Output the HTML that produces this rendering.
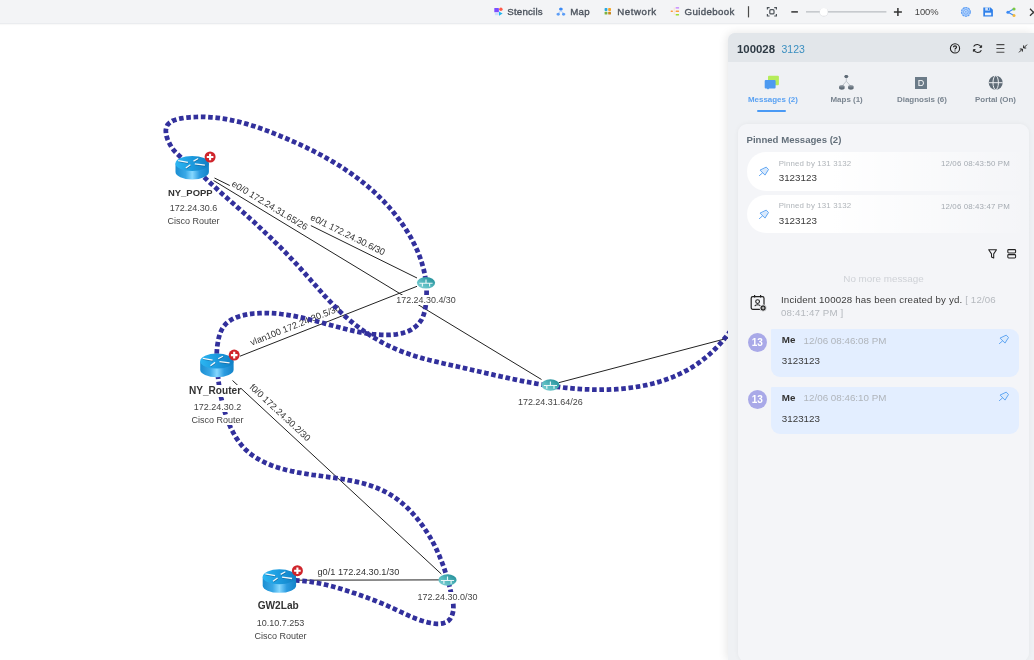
<!DOCTYPE html>
<html><head><meta charset="utf-8">
<style>
*{box-sizing:border-box;margin:0;padding:0}
html,body{width:1034px;height:660px;overflow:hidden;background:#fff;font-family:"Liberation Sans",sans-serif;}
.abs{position:absolute}
#tb{position:absolute;left:0;top:0;width:1034px;height:24px;background:#f3f4f6;border-bottom:1px solid #eaecef;box-shadow:0 1px 1px rgba(0,0,0,.025)}
.tbt{position:absolute;top:5.5px;font-size:9.7px;font-weight:normal;-webkit-text-stroke:.38px #4f5660;color:#4f5660;line-height:12px;white-space:nowrap}
#canvas{position:absolute;left:0;top:0}
.nl{position:absolute;white-space:nowrap;background:#fff;color:#444;font-size:9px;line-height:10px;text-align:center;transform:translateX(-50%)}
.nb{font-weight:bold;font-size:10px;color:#333;line-height:12px}
#panel{position:absolute;left:728px;top:33px;width:306px;height:627px;background:#eff1f4;border-top-left-radius:7px;box-shadow:-1px 0 10px rgba(0,0,0,.11)}
#ph{position:absolute;left:0;top:0;width:306px;height:29px;background:#e2e6ea;border-top-left-radius:7px}
#card{position:absolute;left:10px;top:91px;width:291px;height:538px;background:#f4f5f8;border-radius:9px;box-shadow:0 0 5px rgba(0,0,0,.05)}
.tab{position:absolute;top:62px;font-size:7.95px;font-weight:bold;color:#7a8590;white-space:nowrap;line-height:10px}
.pin{position:absolute;left:9px;width:283px;height:38.5px;border-radius:19px 0 0 19px;background:linear-gradient(90deg,#fff 0%,#fff 30%,rgba(255,255,255,0) 100%)}
.bub{position:absolute;left:32.8px;width:248.2px;background:#e3eeff;border-radius:1px 9px 9px 9px}
.av{position:absolute;left:9.6px;width:19.4px;height:19.4px;border-radius:50%;background:#a9a9e8;color:#fff;font-weight:bold;font-size:10px;line-height:19.4px;text-align:center}
.psm{font-size:7.9px;letter-spacing:.13px;color:#b0b5ba;line-height:10px;white-space:nowrap;margin-top:.7px}
.pmsg{font-size:9.8px;color:#3a3a3a;line-height:12px;white-space:nowrap}
.me{font-size:9.8px;font-weight:bold;color:#333;line-height:12px}
.ts{font-size:9.8px;color:#b0b5bb;line-height:12px;white-space:nowrap}
</style></head><body><div id="root" style="position:absolute;left:0;top:0;width:1034px;height:660px;will-change:transform">
<svg id="canvas" width="1034" height="660" viewBox="0 0 1034 660">
<defs>
<linearGradient id="rb" x1="0" x2="1" y1="0" y2="0"><stop offset="0" stop-color="#1a8ed2"/><stop offset=".3" stop-color="#3aa8e6"/><stop offset=".5" stop-color="#86d8ff"/><stop offset=".72" stop-color="#2b9be0"/><stop offset="1" stop-color="#1383c8"/></linearGradient>
<linearGradient id="rt" x1="0" x2="1" y1="0" y2="0"><stop offset="0" stop-color="#2cb6f2"/><stop offset=".5" stop-color="#1b9ade"/><stop offset="1" stop-color="#127fc4"/></linearGradient>
<linearGradient id="tg" x1="0" y1="1" x2="1" y2="0"><stop offset="0" stop-color="#86d4d7"/><stop offset=".45" stop-color="#56b9bf"/><stop offset=".8" stop-color="#2e98a1"/><stop offset="1" stop-color="#2a8d96"/></linearGradient>
<g id="router">
<path d="M0.3 7.6 V16.2 A16.7 7.4 0 0 0 33.7 16.2 V7.6 Z" fill="url(#rb)"/>
<ellipse cx="17" cy="7.5" rx="16.7" ry="7.5" fill="url(#rt)"/>
<g stroke="#0b4f80" stroke-opacity=".55" stroke-width="1.5" fill="none" transform="translate(.3,.6)">
<path d="M2.9 4.7L12.7 6.5M18.3 5.2L23 2.6M19.6 8L29.7 9.3M10.6 12.1L15.2 8.8"/></g>
<g stroke="#fff" stroke-opacity=".95" stroke-width="1.3" fill="none">
<path d="M2.9 4.7L12.7 6.5M18.3 5.2L23 2.6M19.6 8L29.7 9.3M10.6 12.1L15.2 8.8"/></g>
</g>
<g id="badge"><circle r="5.5" fill="#cf242b"/><path d="M-3.3 0H3.3M0 -3.3V3.3" stroke="#fff" stroke-width="2.1"/></g>
<g id="lan"><ellipse rx="9.1" ry="5.8" fill="url(#tg)"/><path d="M-6.6 0.5H6.6M0 0.5V-3.4M-3.6 0.5V3.7M3.6 0.5V3.7" stroke="#fff" stroke-opacity=".88" stroke-width="1.15" fill="none"/></g>
</defs>
<!-- black link lines -->
<g stroke="#222" stroke-width="1" fill="none">
<line x1="213.5" y1="180.5" x2="541.5" y2="379.5"/>
<line x1="214.5" y1="178" x2="417" y2="278"/>
<line x1="240" y1="356.2" x2="417" y2="286.3"/>
<line x1="232.5" y1="380.5" x2="441.3" y2="574"/>
<line x1="295.9" y1="580.2" x2="439" y2="579.9"/>
<line x1="558.7" y1="382.7" x2="728" y2="338.1"/>
</g>
<g font-family="Liberation Sans, sans-serif" font-size="9.2" fill="#333">
<g transform="translate(231,185.5) rotate(31.2)"><rect x="-1" y="-9" width="90" height="11.5" fill="#fff"/><text>e0/0 172.24.31.65/26</text></g>
<g transform="translate(309.8,219.6) rotate(26.1)"><rect x="-1" y="-9" width="86" height="11.5" fill="#fff"/><text>e0/1 172.24.30.6/30</text></g>
<g transform="translate(251.8,345.8) rotate(-21.6)"><rect x="-1" y="-9" width="100" height="11.5" fill="#fff"/><text>vlan100 172.24.30.5/30</text></g>
<g transform="translate(249,387.9) rotate(42.8)"><rect x="-1" y="-9" width="84" height="11.5" fill="#fff"/><text>f0/0 172.24.30.2/30</text></g>
<g transform="translate(317.5,575)"><rect x="-1" y="-9" width="84" height="11.5" fill="#fff"/><text>g0/1 172.24.30.1/30</text></g>
</g>
<!-- dashed paths -->
<g stroke="#32309c" stroke-width="4.75" fill="none" stroke-dasharray="4.6 2.7">
<path id="d1" d="M186.0 162.7 L184.0 160.4 L181.9 158.3 L179.7 156.2 L177.5 154.2 L175.3 152.0 L173.4 149.7 L171.6 147.3 L170.1 144.7 L168.7 142.0 L167.5 139.2 L166.6 136.3 L166.0 133.4 L165.8 130.4 L166.3 127.4 L167.6 124.7 L169.8 122.6 L172.3 121.0 L175.1 119.9 L178.0 119.0 L181.0 118.4 L184.0 117.9 L187.0 117.6 L190.0 117.3 L193.0 117.1 L196.0 117.0 L199.0 116.9 L202.0 116.9 L205.1 116.9 L208.1 117.1 L211.1 117.3 L214.1 117.5 L217.1 117.8 L220.1 118.2 L223.1 118.6 L226.1 119.1 L229.0 119.7 L232.0 120.3 L234.9 120.9 L237.9 121.6 L240.8 122.3 L243.7 123.1 L246.6 123.9 L249.5 124.8 L252.4 125.7 L255.3 126.6 L258.2 127.6 L261.0 128.6 L263.9 129.6 L266.7 130.6 L269.5 131.7 L272.3 132.8 L275.1 133.9 L277.9 135.0 L280.7 136.2 L283.5 137.3 L286.3 138.5 L289.1 139.7 L291.8 140.9 L294.6 142.1 L297.4 143.4 L300.1 144.6 L302.8 145.9 L305.6 147.2 L308.3 148.5 L311.0 149.9 L313.7 151.2 L316.4 152.6 L319.0 154.0 L321.7 155.4 L324.4 156.9 L327.0 158.4 L329.6 159.9 L332.2 161.4 L334.8 162.9 L337.4 164.5 L340.0 166.1 L342.5 167.7 L345.0 169.4 L347.5 171.1 L350.0 172.8 L352.5 174.5 L354.9 176.3 L357.4 178.1 L359.8 179.9 L362.2 181.8 L364.5 183.7 L366.8 185.6 L369.1 187.5 L371.4 189.5 L373.7 191.5 L375.9 193.6 L378.1 195.7 L380.2 197.8 L382.4 199.9 L384.5 202.1 L386.5 204.3 L388.6 206.5 L390.5 208.8 L392.5 211.1 L394.4 213.5 L396.3 215.8 L398.1 218.2 L399.9 220.6 L401.7 223.1 L403.4 225.6 L405.1 228.1 L406.7 230.6 L408.3 233.2 L409.8 235.8 L411.3 238.4 L412.7 241.1 L414.1 243.8 L415.4 246.5 L416.7 249.3 L417.9 252.0 L419.0 254.8 L420.1 257.7 L421.1 260.5 L422.0 263.4 L422.8 266.3 L423.6 269.2 L424.3 272.1 L424.9 275.1 L425.4 278.1 L425.8 281.1 L426.2 284.1 L426.4 287.1 L426.6 290.1 L426.6 293.1 L426.5 296.1 L426.4 299.2 L426.1 302.2 L425.8 305.2 L425.3 308.1 L424.7 311.1 L423.9 314.0 L422.9 316.9 L421.6 319.6 L419.9 322.1 L418.0 324.4 L415.8 326.5 L413.3 328.3 L410.8 329.9 L408.1 331.2 L405.3 332.3 L402.4 333.2 L399.4 333.8 L396.4 334.3 L393.4 334.6 L390.4 334.8 L387.4 334.9 L384.4 334.9 L381.4 334.8 L378.3 334.7 L375.3 334.4 L372.3 334.1 L369.3 333.7 L366.3 333.3 L363.4 332.8 L360.4 332.3 L357.4 331.7 L354.5 331.1 L351.5 330.4 L348.6 329.8 L345.6 329.0 L342.7 328.3 L339.8 327.5 L336.9 326.8 L334.0 326.0 L331.0 325.2 L328.1 324.4 L325.2 323.6 L322.3 322.8 L319.4 322.0 L316.5 321.2 L313.5 320.5 L310.6 319.7 L307.7 319.0 L304.7 318.3 L301.8 317.6 L298.9 317.0 L295.9 316.4 L292.9 315.8 L290.0 315.3 L287.0 314.8 L284.0 314.3 L281.0 314.0 L278.0 313.6 L275.0 313.4 L272.0 313.2 L269.0 313.0 L265.9 313.0 L262.9 313.0 L259.9 313.1 L256.9 313.3 L253.9 313.5 L250.9 313.9 L247.9 314.3 L244.9 314.9 L242.0 315.5 L239.1 316.4 L236.2 317.4 L233.4 318.6 L230.8 320.0 L228.3 321.7 L226.0 323.7 L224.0 326.0 L222.4 328.5 L221.0 331.2 L219.9 334.0 L219.0 336.9 L218.3 339.8 L217.8 342.8 L217.3 345.8 L217.0 348.8 L216.8 351.8 L216.7 354.8 L216.6 357.8"/>
<path id="d2" d="M198.9 172.1 L201.0 174.2 L203.2 176.3 L205.4 178.4 L207.6 180.5 L209.8 182.5 L212.0 184.6 L214.3 186.6 L216.5 188.6 L218.7 190.7 L221.0 192.7 L223.2 194.7 L225.5 196.7 L227.8 198.7 L230.0 200.7 L232.3 202.7 L234.6 204.7 L236.8 206.7 L239.1 208.7 L241.3 210.7 L243.6 212.7 L245.9 214.7 L248.1 216.7 L250.3 218.8 L252.6 220.8 L254.8 222.8 L257.0 224.9 L259.2 227.0 L261.4 229.0 L263.6 231.1 L265.8 233.2 L268.0 235.2 L270.2 237.3 L272.4 239.4 L274.5 241.6 L276.7 243.7 L278.8 245.8 L281.0 247.9 L283.1 250.1 L285.2 252.2 L287.3 254.4 L289.4 256.6 L291.5 258.8 L293.6 261.0 L295.6 263.2 L297.7 265.4 L299.7 267.6 L301.7 269.9 L303.7 272.1 L305.7 274.4 L307.7 276.7 L309.7 278.9 L311.7 281.2 L313.7 283.5 L315.7 285.7 L317.7 288.0 L319.7 290.3 L321.7 292.5 L323.7 294.8 L325.8 297.0 L327.8 299.2 L329.9 301.4 L332.0 303.6 L334.1 305.8 L336.2 307.9 L338.4 310.0 L340.6 312.1 L342.8 314.2 L345.0 316.2 L347.3 318.2 L349.6 320.2 L351.9 322.1 L354.3 324.0 L356.7 325.8 L359.1 327.6 L361.5 329.4 L364.0 331.2 L366.5 332.9 L369.0 334.6 L371.5 336.2 L374.1 337.8 L376.7 339.3 L379.3 340.8 L381.9 342.3 L384.6 343.7 L387.3 345.1 L390.0 346.4 L392.8 347.7 L395.5 348.9 L398.3 350.1 L401.1 351.2 L403.9 352.3 L406.8 353.3 L409.6 354.3 L412.5 355.3 L415.4 356.2 L418.3 357.0 L421.2 357.9 L424.1 358.7 L427.0 359.5 L429.9 360.2 L432.9 360.9 L435.8 361.6 L438.7 362.3 L441.7 363.0 L444.6 363.7 L447.6 364.4 L450.5 365.0 L453.5 365.7 L456.4 366.3 L459.4 367.0 L462.3 367.7 L465.3 368.3 L468.2 369.0 L471.1 369.7 L474.1 370.4 L477.0 371.0 L480.0 371.7 L482.9 372.4 L485.9 373.1 L488.8 373.7 L491.8 374.4 L494.7 375.1 L497.7 375.7 L500.6 376.4 L503.6 377.0 L506.5 377.7 L509.5 378.3 L512.4 379.0 L515.4 379.6 L518.3 380.2 L521.3 380.8 L524.3 381.4 L527.2 381.9 L530.2 382.5 L533.2 383.0 L536.1 383.6 L539.1 384.1 L542.1 384.6 L545.1 385.0 L548.1 385.5 L551.1 385.9 L554.0 386.4 L557.0 386.8 L560.0 387.1 L563.0 387.5 L566.0 387.8 L569.0 388.1 L572.1 388.4 L575.1 388.7 L578.1 388.9 L581.1 389.1 L584.1 389.3 L587.1 389.4 L590.1 389.5 L593.2 389.6 L596.2 389.7 L599.2 389.7 L602.2 389.7 L605.3 389.6 L608.3 389.6 L611.3 389.4 L614.3 389.3 L617.3 389.1 L620.3 388.9 L623.3 388.6 L626.3 388.3 L629.4 387.9 L632.3 387.5 L635.3 387.1 L638.3 386.6 L641.3 386.1 L644.3 385.5 L647.2 384.9 L650.2 384.2 L653.1 383.5 L656.0 382.7 L658.9 381.9 L661.8 381.0 L664.7 380.0 L667.5 379.0 L670.3 378.0 L673.2 376.9 L675.9 375.7 L678.7 374.4 L681.4 373.1 L684.1 371.8 L686.8 370.4 L689.4 368.9 L692.0 367.3 L694.6 365.7 L697.1 364.0 L699.5 362.3 L702.0 360.5 L704.3 358.6 L706.7 356.7 L709.0 354.7 L711.2 352.7 L713.4 350.7 L715.6 348.5 L717.7 346.4 L719.7 344.2 L721.7 341.9 L723.7 339.6 L725.6 337.3 L727.5 334.9 L729.3 332.5 L731.0 330.0 L732.7 327.5 L734.4 325.0 L736.0 322.4"/>
<path id="d3" d="M217.8 374.4 L218.1 377.4 L218.4 380.4 L218.8 383.4 L219.2 386.4 L219.6 389.4 L220.1 392.3 L220.7 395.3 L221.3 398.3 L222.0 401.2 L222.7 404.2 L223.4 407.1 L224.2 410.0 L225.1 412.9 L226.0 415.8 L227.0 418.6 L228.1 421.4 L229.2 424.2 L230.4 427.0 L231.7 429.7 L233.1 432.4 L234.6 435.1 L236.1 437.7 L237.8 440.2 L239.5 442.6 L241.4 445.0 L243.4 447.3 L245.5 449.5 L247.7 451.5 L250.0 453.5 L252.4 455.3 L254.9 457.0 L257.5 458.6 L260.1 460.1 L262.8 461.5 L265.5 462.8 L268.3 464.0 L271.1 465.2 L273.9 466.2 L276.8 467.2 L279.7 468.1 L282.6 468.9 L285.5 469.7 L288.4 470.4 L291.4 471.1 L294.3 471.7 L297.3 472.3 L300.3 472.8 L303.2 473.3 L306.2 473.8 L309.2 474.3 L312.2 474.8 L315.2 475.2 L318.2 475.6 L321.2 476.0 L324.2 476.4 L327.2 476.8 L330.1 477.3 L333.1 477.7 L336.1 478.1 L339.1 478.6 L342.1 479.0 L345.1 479.5 L348.1 480.1 L351.0 480.6 L354.0 481.2 L356.9 481.9 L359.9 482.6 L362.8 483.3 L365.7 484.1 L368.6 485.0 L371.5 485.9 L374.3 486.9 L377.1 488.0 L379.9 489.2 L382.7 490.5 L385.4 491.8 L388.0 493.2 L390.6 494.8 L393.2 496.4 L395.7 498.1 L398.1 499.9 L400.5 501.8 L402.8 503.7 L405.1 505.7 L407.3 507.8 L409.4 509.9 L411.5 512.1 L413.5 514.3 L415.5 516.6 L417.4 518.9 L419.3 521.3 L421.1 523.7 L422.9 526.2 L424.6 528.7 L426.3 531.2 L427.9 533.7 L429.5 536.3 L431.0 538.9 L432.5 541.6 L433.9 544.2 L435.3 546.9 L436.6 549.6 L437.8 552.4 L439.1 555.1 L440.2 557.9 L441.4 560.7 L442.4 563.5 L443.5 566.4 L444.5 569.2 L445.4 572.1 L446.3 575.0 L447.2 577.9 L448.0 580.8 L448.8 583.7 L449.6 586.6 L450.3 589.6 L451.0 592.5 L451.7 595.4 L452.3 598.4 L452.9 601.4 L453.3 604.4 L453.4 607.4 L453.3 610.4 L452.7 613.4 L451.7 616.2 L450.2 618.8 L448.1 621.0 L445.5 622.5 L442.7 623.4 L439.7 623.8 L436.7 623.8 L433.6 623.5 L430.7 623.0 L427.7 622.4 L424.8 621.6 L421.9 620.8 L419.0 619.8 L416.2 618.8 L413.4 617.6 L410.6 616.5 L407.8 615.2 L405.1 614.0 L402.4 612.7 L399.6 611.4 L396.9 610.1 L394.2 608.8 L391.4 607.6 L388.7 606.3 L385.9 605.1 L383.1 603.9 L380.3 602.8 L377.5 601.7 L374.7 600.5 L371.9 599.5 L369.1 598.4 L366.2 597.3 L363.4 596.3 L360.5 595.3 L357.7 594.3 L354.8 593.3 L352.0 592.4 L349.1 591.4 L346.2 590.5 L343.3 589.6 L340.5 588.7 L337.6 587.8 L334.6 587.0 L331.7 586.2 L328.8 585.5 L325.9 584.8 L322.9 584.1 L320.0 583.5 L317.0 582.9 L314.0 582.4 L311.0 581.9 L308.1 581.5 L305.1 581.1 L302.0 580.8 L299.0 580.6 L296.0 580.4 L293.0 580.3 L290.0 580.3 L287.0 580.3 L283.9 580.4"/>
</g>
<use href="#router" x="175.2" y="155.9"/><use href="#badge" x="210.1" y="157"/>
<use href="#router" x="199.9" y="353.6"/><use href="#badge" x="234.2" y="355.1"/>
<use href="#router" x="262.4" y="569.2"/><use href="#badge" x="297.4" y="570.7"/>
<use href="#lan" x="426" y="282.8"/>
<use href="#lan" x="550.4" y="385"/>
<use href="#lan" x="447.5" y="580"/>
</svg>
<!-- node labels -->
<div class="nl nb" style="left:190.3px;top:186.7px;font-size:9.45px">NY_POPP</div>
<div class="nl" style="left:193.5px;top:203.4px">172.24.30.6</div>
<div class="nl" style="left:193.5px;top:216.3px">Cisco Router</div>
<div class="nl nb" style="left:215px;top:384.8px;font-size:10.1px">NY_Router</div>
<div class="nl" style="left:217.5px;top:402.0px">172.24.30.2</div>
<div class="nl" style="left:217.5px;top:415.0px">Cisco Router</div>
<div class="nl nb" style="left:278.2px;top:600.4px;font-size:10.15px">GW2Lab</div>
<div class="nl" style="left:280.5px;top:617.7px">10.10.7.253</div>
<div class="nl" style="left:280.5px;top:630.7px">Cisco Router</div>
<div class="nl" style="left:426px;top:295.0px;font-size:8.92px">172.24.30.4/30</div>
<div class="nl" style="left:550.3px;top:397.3px;font-size:8.96px">172.24.31.64/26</div>
<div class="nl" style="left:447.5px;top:591.7px;font-size:8.98px">172.24.30.0/30</div>

<div id="tb">
<svg class="abs" style="left:0;top:0" width="1034" height="24" viewBox="0 0 1034 24">
<!-- stencils -->
<rect x="494.3" y="8" width="4.6" height="4.3" rx=".6" fill="#7b4dff"/><circle cx="500.9" cy="9.2" r="1.7" fill="#ff5a4a"/><rect x="494.9" y="12.6" width="3.8" height="2.6" fill="#cddcff"/><path d="M499 11.4L502.6 13.5L499 15.8Z" fill="#1fb4ee"/>
<!-- map -->
<path d="M559.2 8.3L560.9 7.4L562.6 8.3V9.9L560.9 10.8L559.2 9.9Z" fill="#3b8af5"/><path d="M560.9 10.6L558.4 13.3M560.9 10.6L563.4 13.3" stroke="#9cc3fa" stroke-width=".8"/><path d="M556.6 13.6L558.2 12.8L559.8 13.6V15L558.2 15.8L556.6 15Z" fill="#5b9df7"/><path d="M562 13.6L563.6 12.8L565.2 13.6V15L563.6 15.8L562 15Z" fill="#5b9df7"/>
<!-- network -->
<rect x="604.6" y="8.1" width="2.8" height="2.8" rx=".7" fill="#29a9e0"/><rect x="608.2" y="8.1" width="2.8" height="2.8" rx=".7" fill="#f5a623"/><rect x="604.6" y="11.8" width="2.8" height="2.8" rx=".7" fill="#7cb342"/><rect x="608.2" y="11.8" width="2.8" height="2.8" rx=".7" fill="#c8861e"/>
<!-- guidebook -->
<rect x="670.7" y="10.6" width="2.2" height="1.3" rx=".5" fill="#ff9a3c"/><rect x="675.6" y="7.2" width="3.5" height="1.4" rx=".4" fill="#c17bff"/><rect x="675.6" y="10.6" width="3.5" height="1.4" rx=".4" fill="#ff9a3c"/><rect x="675.6" y="14" width="3.5" height="1.4" rx=".4" fill="#9fdc2e"/><path d="M674.2 7.5V15" stroke="#ffd9b0" stroke-width=".6"/>
<!-- sep -->
<path d="M748.5 6.2V17.4" stroke="#4a4a4a" stroke-width="1.2"/>
<!-- fit -->
<g fill="none" stroke="#4d5359" stroke-width="1.2"><path d="M767.4 9.6V7.6H769.6M774.2 7.6H776.4V9.6M776.4 14V16H774.2M769.6 16H767.4V14"/><rect x="769.8" y="9.7" width="4.2" height="4.2" rx="1"/></g>
<!-- minus / slider / plus -->
<path d="M791.3 11.9H797.9" stroke="#333" stroke-width="1.5"/>
<path d="M806 11.9H886.4" stroke="#b9bdc1" stroke-width="1.1"/>
<circle cx="823.8" cy="12.3" r="4.3" fill="#d9dbde"/><circle cx="823.8" cy="11.9" r="3.9" fill="#fff"/>
<path d="M893.9 11.9H901.9M897.9 7.9V15.9" stroke="#333" stroke-width="1.5"/>
<!-- gear -->
<circle cx="965.9" cy="11.9" r="4.4" fill="#a9ccfb" stroke="#5b9df5" stroke-width="1.1" stroke-dasharray="2.2 .6"/><circle cx="965.9" cy="11.9" r="2.2" fill="#d6e6fd" stroke="#5b9df5" stroke-width=".8"/><circle cx="965.9" cy="11.9" r=".8" fill="#5b9df5"/>
<!-- save -->
<path d="M983.3 7.4H990.6L992.9 9.7V16.6H983.3Z" fill="#2f80ea"/><rect x="985.2" y="7.4" width="4.6" height="3.2" fill="#cfe2fb"/><rect x="987.9" y="7.9" width="1.2" height="2.2" fill="#2f80ea"/><rect x="985" y="12.7" width="6.2" height="2.6" fill="#e8f1fd"/>
<!-- share -->
<path d="M1013.6 9L1008 12.2L1013.6 15.3" fill="none" stroke="#3b8af5" stroke-width="1.1"/><circle cx="1007.9" cy="12.2" r="1.5" fill="#3b8af5"/><circle cx="1014" cy="9" r="1.6" fill="#7ac943"/><circle cx="1014" cy="15.4" r="1.5" fill="#f2b83c"/>
<!-- close -->
<path d="M1030 8.8L1037 15.8M1030 15.8L1037 8.8" stroke="#333" stroke-width="1.3"/>
</svg>
<div class="tbt" style="left:507.3px;letter-spacing:.2px">Stencils</div>
<div class="tbt" style="left:570.2px;letter-spacing:.3px">Map</div>
<div class="tbt" style="left:617.2px;letter-spacing:.55px">Network</div>
<div class="tbt" style="left:684.5px;letter-spacing:.38px">Guidebook</div>
<div class="tbt" style="left:914.7px;font-weight:normal;-webkit-text-stroke:0;color:#444;font-size:9.4px;top:5.5px">100%</div>
</div>

<div id="panel">
<div id="ph">
<div class="abs" style="left:9px;top:9.6px;font-size:11.4px;font-weight:bold;color:#2f3b45;line-height:13px">100028</div>
<div class="abs" style="left:53.5px;top:9.5px;font-size:10.5px;color:#3a8fc0;line-height:13px">3123</div>
<svg class="abs" style="left:220px;top:9px" width="86" height="13" viewBox="0 0 86 13" fill="none" stroke="#222" stroke-width="1.1">
<circle cx="7" cy="6.4" r="4.6"/><path d="M5.5 5.2C5.5 3.5 8.5 3.5 8.5 5.2C8.5 6.3 7 6.2 7 7.5" stroke-width="1.2"/><circle cx="7" cy="8.9" r=".55" fill="#222" stroke="none"/>
<path d="M25.6 4.6A4.2 4.2 0 0 1 33.2 5.2M33.4 8.2A4.2 4.2 0 0 1 25.8 7.8" stroke-width="1.05"/><path d="M31.5 5.4H33.6V3.3M27.5 7.6H25.4V9.7" stroke-width="1"/>
<path d="M48.4 2.6H56.4M48.4 6.5H56.4M48.4 10.3H56.4" stroke-width="1.1" stroke="#4a4a4a"/>
<path d="M71 10.4L74.4 7M74.4 9.6V7H71.8M79 2.6L75.6 6M75.6 3.4V6H78.2" stroke-width=".95"/>
</svg>
</div>
<svg class="abs" style="left:36px;top:42px" width="16" height="15" viewBox="0 0 16 15"><rect x="4" y=".8" width="10.9" height="9.4" rx="1" fill="#b5ec5a"/><path d="M.7 6.1a1 1 0 0 1 1-1h8.9a1 1 0 0 1 1 1v6.4a1 1 0 0 1 -1 1H5.2L4 14.6L2.8 13.5H1.7a1 1 0 0 1 -1 -1Z" fill="#4d9af0"/></svg>
<svg class="abs" style="left:110px;top:41px" width="17" height="17" viewBox="0 0 17 17"><path d="M8.3 3.6V7.2M8.3 7.2L4.2 12M8.3 7.2L12.6 12" stroke="#b9bfc6" stroke-width=".9" fill="none"/><path d="M6.1 2.5L7.2 1.1H9.4L10.5 2.5L9.4 3.9H7.2Z" fill="#5f6b76"/><path d="M1.1 12.4V14.6A2.75 1.1 0 0 0 6.6 14.6V12.4Z" fill="#5f6b76"/><path d="M10.1 12.4V14.6A2.75 1.1 0 0 0 15.6 14.6V12.4Z" fill="#5f6b76"/><ellipse cx="3.85" cy="12.4" rx="2.75" ry="1.15" fill="#7d8791"/><ellipse cx="12.85" cy="12.4" rx="2.75" ry="1.15" fill="#7d8791"/></svg>
<div class="abs" style="left:187px;top:43.5px;width:12.2px;height:12.8px;background:#6b7b88;color:#fff;font-size:9px;line-height:13.4px;text-align:center">D</div>
<svg class="abs" style="left:260px;top:42px" width="16" height="16" viewBox="0 0 16 16"><circle cx="7.7" cy="7.7" r="7" fill="#5f6b76"/><path d="M.7 7.7H14.7" stroke="#eff1f4" stroke-width="1"/><ellipse cx="7.7" cy="7.7" rx="2.7" ry="7" fill="none" stroke="#eff1f4" stroke-width="1"/></svg>
<div class="tab" style="left:20px;color:#5aa2f3">Messages (2)</div>
<div class="tab" style="left:102.5px">Maps (1)</div>
<div class="tab" style="left:169px">Diagnosis (6)</div>
<div class="tab" style="left:247px">Portal (On)</div>
<div class="abs" style="left:29.2px;top:76.5px;width:29.3px;height:2px;background:#4a9af5;border-radius:1px"></div>
<div id="card">
<div class="abs" style="left:8.5px;top:10px;font-size:9.6px;font-weight:bold;color:#64707b;line-height:12px">Pinned Messages (2)</div>
<div class="pin" style="top:28px"></div>
<div class="pin" style="top:70.5px"></div>
<svg class="abs" style="left:20px;top:42px" width="12" height="12" viewBox="0 0 12 12"><use href="#pinico"/></svg>
<svg class="abs" style="left:20px;top:84.5px" width="12" height="12" viewBox="0 0 12 12"><use href="#pinico"/></svg>
<div class="abs psm" style="left:40.7px;top:34px">Pinned by 131 3132</div>
<div class="abs psm" style="left:203px;top:34.5px;color:#a5abb2">12/06 08:43:50 PM</div>
<div class="abs pmsg" style="left:40.7px;top:48px">3123123</div>
<div class="abs psm" style="left:40.7px;top:76.5px">Pinned by 131 3132</div>
<div class="abs psm" style="left:203px;top:77px;color:#a5abb2">12/06 08:43:47 PM</div>
<div class="abs pmsg" style="left:40.7px;top:90.5px">3123123</div>
<!-- filter icons -->
<svg class="abs" style="left:248px;top:123px" width="34" height="14" viewBox="0 0 34 14" fill="none" stroke="#222" stroke-width="1.05" stroke-linejoin="round"><path d="M2.7 2.8H10.5L7.7 6.9V10.9L5.5 9.9V6.9Z"/><rect x="21.8" y="2.6" width="7.8" height="3.3" rx=".9"/><rect x="21.8" y="7.6" width="7.8" height="3.3" rx=".9"/></svg>
<div class="abs" style="left:105.3px;top:149px;font-size:9.85px;color:#cfd2d7;line-height:12px;white-space:nowrap">No more message</div>
<!-- incident -->
<svg class="abs" style="left:11.5px;top:169.5px" width="18" height="18" viewBox="0 0 18 18"><rect x="1.2" y="2.6" width="12.8" height="12.8" rx="1.6" fill="none" stroke="#222" stroke-width="1.2"/><path d="M4.6 1V3.4M10.6 1V3.4" stroke="#222" stroke-width="1.2"/><circle cx="7.6" cy="7.6" r="1.9" fill="none" stroke="#222" stroke-width="1.1"/><path d="M4.8 12.2C5.2 10.2 10 10.2 10.4 12.2" fill="none" stroke="#222" stroke-width="1.1"/><circle cx="13.1" cy="14" r="3.2" fill="#222" stroke="#f4f5f8" stroke-width=".9"/><path d="M11.7 14H14.5M13.1 12.6V15.4" stroke="#fff" stroke-width=".75"/></svg>
<div class="abs" style="left:43px;top:170.2px;width:228px;font-size:9.7px;letter-spacing:.16px;color:#3c3c3c;line-height:12.8px">Incident 100028 has been created by yd. <span style="color:#b5b9be">[ 12/06 08:41:47 PM ]</span></div>
<!-- messages -->
<div class="av" style="top:208.5px">13</div>
<div class="bub" style="top:205px;height:48px"></div>
<div class="av" style="top:265.8px">13</div>
<div class="bub" style="top:262.7px;height:47.5px"></div>
<div class="abs me" style="left:43.8px;top:210.3px">Me</div><div class="abs ts" style="left:65.6px;top:210.8px">12/06 08:46:08 PM</div>
<div class="abs pmsg" style="left:43.8px;top:231.4px;font-size:9.8px">3123123</div>
<div class="abs me" style="left:43.8px;top:267.6px">Me</div><div class="abs ts" style="left:65.6px;top:268.1px">12/06 08:46:10 PM</div>
<div class="abs pmsg" style="left:43.8px;top:288.7px;font-size:9.8px">3123123</div>
<svg class="abs" style="left:259.5px;top:209.5px" width="12" height="12" viewBox="0 0 12 12"><use href="#pinico"/></svg>
<svg class="abs" style="left:259.5px;top:266.8px" width="12" height="12" viewBox="0 0 12 12"><use href="#pinico"/></svg>
</div>
</div>
<svg width="0" height="0" style="position:absolute"><defs>
<g id="pinico" fill="#d9e9fc" stroke="#5aa2f2" stroke-width=".95" stroke-linejoin="round" stroke-linecap="round"><path d="M8.5 1.4L10.5 3.5L7 9.1L2.3 4.4Z"/><path d="M4.4 7L1.4 9.6" fill="none"/></g>
</defs></svg>
</div></body></html>
